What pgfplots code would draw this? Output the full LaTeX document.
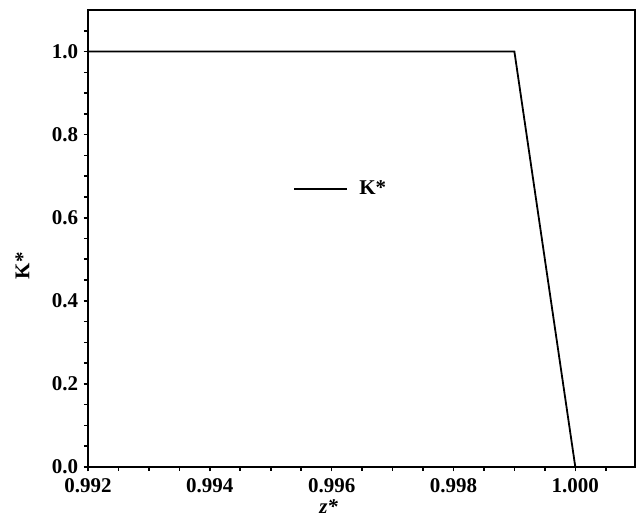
\documentclass[border=0pt]{standalone}
\usepackage{fontspec}
\setmainfont{Liberation Serif}
\usepackage{pgfplots}
\pgfplotsset{compat=1.18}
\begin{document}
\fontsize{10.5}{12}\selectfont\bfseries
\begin{tikzpicture}
\begin{axis}[
  scale only axis,
  width=273.5pt, height=228.5pt,
  xmin=0.992, xmax=1.00098,
  ymin=0, ymax=1.1,
  axis line style={line width=0.9pt},
  xtick={0.992,0.994,0.996,0.998,1.000},
  xticklabels={0.992,0.994,0.996,0.998,1.000},
  minor xtick={0.9925,0.993,0.9935,0.9945,0.995,0.9955,0.9965,0.997,0.9975,0.9985,0.999,0.9995,1.0005},
  ytick={0,0.2,0.4,0.6,0.8,1.0},
  yticklabels={0.0,0.2,0.4,0.6,0.8,1.0},
  minor ytick={0.05,0.1,0.15,0.25,0.3,0.35,0.45,0.5,0.55,0.65,0.7,0.75,0.85,0.9,0.95,1.05},
  tick align=outside,
  tick pos=left,
  major tick length=2.2pt,
  minor tick length=2pt,
  tick style={line width=0.8pt, black},
  xticklabel style={yshift=0pt},
  yticklabel style={xshift=1pt},
  xlabel={\textit{z*}},
  ylabel={K*},
  xlabel style={at={(axis description cs:0.44,0)}, anchor=north, yshift=-15pt, inner sep=1pt},
  ylabel style={at={(axis description cs:-0.12,0.44)}, anchor=center},
  legend style={at={(0.464,0.608)}, anchor=center, draw=none, fill=none},
  legend cell align=left,
  legend image code/.code={\draw[#1] (0pt,0pt) -- (26.5pt,0pt);},
]
\addplot[black, line width=0.9pt] coordinates {(0.992,1.0) (0.999,1.0) (1.000,0.0)};
\addlegendentry{\hspace{3.5pt}K*}
\end{axis}
\pgfresetboundingbox
\path ([shift={(-44pt,-28.5pt)}]current axis.south west) rectangle ([shift={(1pt,5pt)}]current axis.north east);
\end{tikzpicture}
\end{document}
